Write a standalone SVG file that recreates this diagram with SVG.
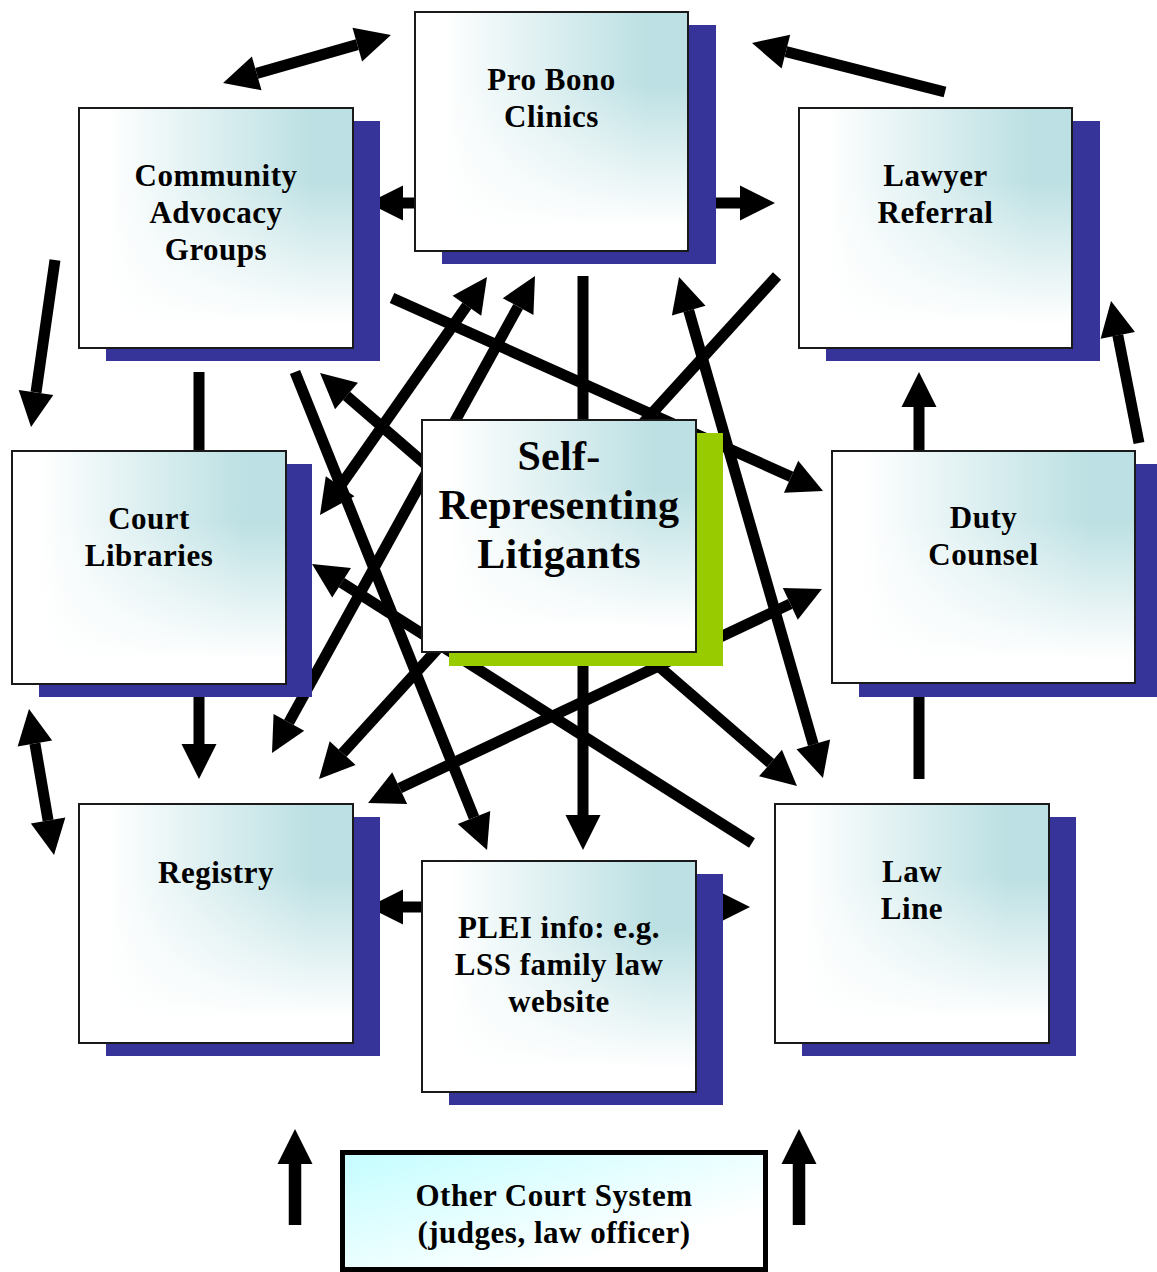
<svg xmlns="http://www.w3.org/2000/svg" width="1157" height="1272" viewBox="0 0 1157 1272">
<style>
.c line{stroke:#000;stroke-width:11;fill:none}
.c .s{marker-start:url(#ah)}
.c .e{marker-end:url(#ah)}
.shadow{fill:#363399}
.green{fill:#99CC00}
.front{fill:url(#gh)}
.over{fill:url(#gv);stroke:#1a1a1a;stroke-width:2}
text{font-family:"Liberation Serif","Times New Roman",serif;font-weight:bold;font-size:31px;fill:#000;text-anchor:middle;letter-spacing:0.5px}
.big{font-size:42px;letter-spacing:0.3px}
</style>
<defs>
<linearGradient id="gh" x1="0" y1="0" x2="1" y2="0">
<stop offset="0" stop-color="#FFFFFF"/>
<stop offset="0.1" stop-color="#FFFFFF"/>
<stop offset="0.85" stop-color="#BCE0E3"/>
<stop offset="1" stop-color="#BCE0E3"/>
</linearGradient>
<linearGradient id="gv" x1="0" y1="0" x2="0" y2="1">
<stop offset="0" stop-color="#FFFFFF" stop-opacity="0"/>
<stop offset="0.3" stop-color="#FFFFFF" stop-opacity="0"/>
<stop offset="0.9" stop-color="#FFFFFF" stop-opacity="1"/>
<stop offset="1" stop-color="#FFFFFF" stop-opacity="1"/>
</linearGradient>
<linearGradient id="gc" x1="0" y1="0" x2="1" y2="1">
<stop offset="0" stop-color="#C4FDFF"/>
<stop offset="0.75" stop-color="#FFFFFF"/>
</linearGradient>
<marker id="ah" markerUnits="userSpaceOnUse" markerWidth="40" markerHeight="40" viewBox="0 -20 40 40" refX="0" refY="0" orient="auto-start-reverse" overflow="visible">
<path d="M0,-17.5 L35,0 L0,17.5 Z" fill="#000"/>
</marker>
</defs>

<g id="connectors" class="c">
<line class="s e" x1="256.7" y1="73.4" x2="357.3" y2="44.6"/>
<line class="e" x1="945" y1="92" x2="785.9" y2="51.6"/>
<line class="e" x1="420" y1="203" x2="403" y2="203"/>
<line class="e" x1="700" y1="203" x2="740" y2="203"/>
<line class="e" x1="55" y1="260" x2="36" y2="392.4"/>
<line x1="199" y1="372" x2="199" y2="455"/>
<line class="e" x1="199" y1="690" x2="199" y2="744"/>
<line class="s e" x1="34.9" y1="743.5" x2="48.1" y2="820.5"/>
<line class="e" x1="425" y1="907" x2="403" y2="907"/>
<line class="e" x1="690" y1="907" x2="715" y2="907"/>
<line class="e" x1="583" y1="276" x2="583" y2="815"/>
<line class="e" x1="392" y1="298" x2="791.1" y2="476.7"/>
<line class="e" x1="777" y1="276" x2="342.6" y2="753.1"/>
<line class="s e" x1="340.1" y1="486.3" x2="466.9" y2="305.7"/>
<line class="s e" x1="518.1" y1="306.6" x2="288.9" y2="722.4"/>
<line class="e" x1="295" y1="372" x2="474" y2="817.5"/>
<line class="e" x1="752" y1="843" x2="341.6" y2="582.7"/>
<line class="s e" x1="688.7" y1="310.6" x2="813.3" y2="744.4"/>
<line class="s e" x1="346.5" y1="395.9" x2="770.5" y2="763.1"/>
<line class="s e" x1="790.3" y1="603.9" x2="399.7" y2="788.1"/>
<line x1="919" y1="697" x2="919" y2="779"/>
<line class="e" x1="919" y1="455" x2="919" y2="407"/>
<line class="e" x1="1139" y1="443" x2="1117.8" y2="335.3"/>
<line class="e" x1="295" y1="1225" x2="295" y2="1164" style="stroke-width:12.5"/>
<line class="e" x1="799" y1="1225" x2="799" y2="1164" style="stroke-width:12.5"/>
</g>

<g id="pro-bono">
<rect class="shadow" x="442" y="25" width="274" height="239"/>
<rect class="front" x="415" y="12" width="273" height="239"/>
<rect class="over" x="415" y="12" width="273" height="239"/>
<text x="551.5" y="90">Pro Bono</text>
<text x="551.5" y="127">Clinics</text>
</g>

<g id="community-advocacy">
<rect class="shadow" x="106" y="121" width="274" height="240"/>
<rect class="front" x="79" y="108" width="274" height="240"/>
<rect class="over" x="79" y="108" width="274" height="240"/>
<text x="216" y="186">Community</text>
<text x="216" y="223">Advocacy</text>
<text x="216" y="260">Groups</text>
</g>

<g id="lawyer-referral">
<rect class="shadow" x="826" y="121" width="274" height="240"/>
<rect class="front" x="799" y="108" width="273" height="240"/>
<rect class="over" x="799" y="108" width="273" height="240"/>
<text x="935.5" y="186">Lawyer</text>
<text x="935.5" y="223">Referral</text>
</g>

<g id="court-libraries">
<rect class="shadow" x="39" y="464" width="273" height="233"/>
<rect class="front" x="12" y="451" width="274" height="233"/>
<rect class="over" x="12" y="451" width="274" height="233"/>
<text x="149" y="529">Court</text>
<text x="149" y="566">Libraries</text>
</g>

<g id="self-representing-litigants">
<rect class="green" x="449" y="433" width="274" height="233"/>
<rect class="front" x="422" y="420" width="274" height="232"/>
<rect class="over" x="422" y="420" width="274" height="232"/>
<text class="big" x="559" y="470">Self-</text>
<text class="big" x="559" y="519">Representing</text>
<text class="big" x="559" y="568">Litigants</text>
</g>

<g id="duty-counsel">
<rect class="shadow" x="859" y="464" width="303" height="233"/>
<rect class="front" x="832" y="451" width="303" height="232"/>
<rect class="over" x="832" y="451" width="303" height="232"/>
<text x="983.5" y="528">Duty</text>
<text x="983.5" y="565">Counsel</text>
</g>

<g id="registry">
<rect class="shadow" x="106" y="817" width="274" height="239"/>
<rect class="front" x="79" y="804" width="274" height="239"/>
<rect class="over" x="79" y="804" width="274" height="239"/>
<text x="216" y="883">Registry</text>
</g>

<g id="plei-info">
<rect class="shadow" x="449" y="874" width="274" height="231"/>
<rect class="front" x="422" y="861" width="274" height="231"/>
<rect class="over" x="422" y="861" width="274" height="231"/>
<text x="559" y="938">PLEI info: e.g.</text>
<text x="559" y="975">LSS family law</text>
<text x="559" y="1012">website</text>
</g>

<g id="law-line">
<rect class="shadow" x="802" y="817" width="274" height="239"/>
<rect class="front" x="775" y="804" width="274" height="239"/>
<rect class="over" x="775" y="804" width="274" height="239"/>
<text x="912" y="882">Law</text>
<text x="912" y="919">Line</text>
</g>

<g id="other-court-system">
<rect x="342.5" y="1152.5" width="423" height="117" fill="url(#gc)" stroke="#000" stroke-width="5"/>
<text x="554" y="1206">Other Court System</text>
<text x="554" y="1243">(judges, law officer)</text>
</g>
</svg>
